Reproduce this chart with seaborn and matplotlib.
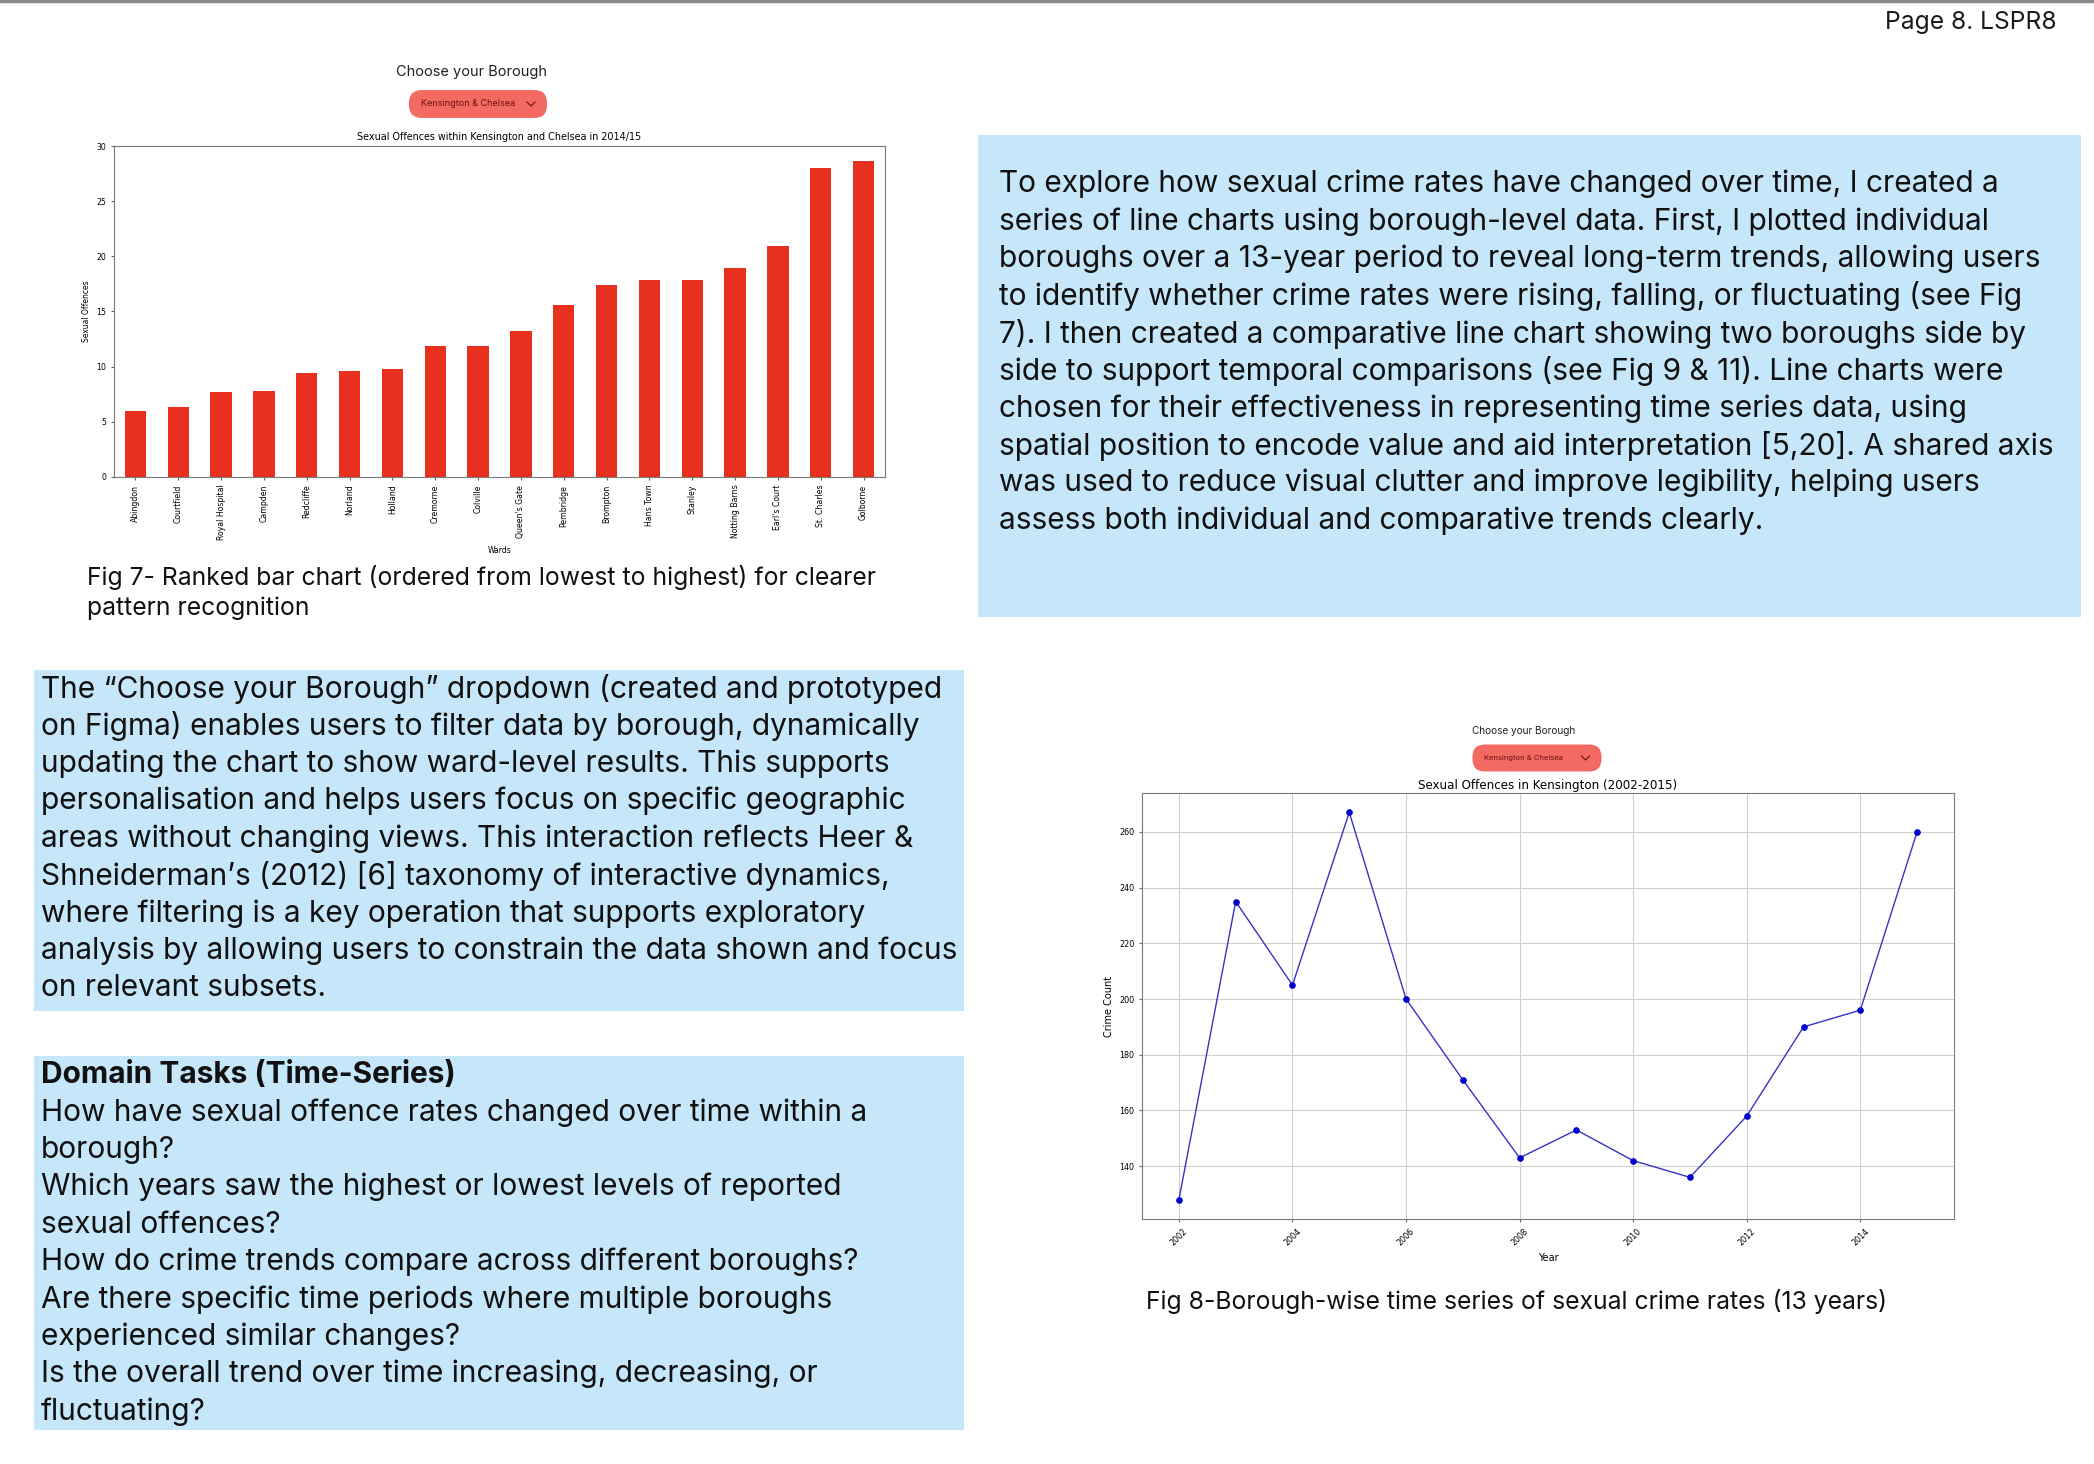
import matplotlib
matplotlib.use("Agg")
import matplotlib.pyplot as plt
import seaborn as sns
from matplotlib.patches import Rectangle, FancyBboxPatch

# Fig 7 data: wards in Kensington & Chelsea, 2014/15
wards = ["Abingdon", "Courtfield", "Royal Hospital", "Campden", "Redcliffe", "Norland",
         "Holland", "Cremorne", "Colville", "Queen's Gate", "Pembridge", "Brompton",
         "Hans Town", "Stanley", "Notting Barns", "Earl's Court", "St. Charles", "Golborne"]
offences = [6.0, 6.3, 7.7, 7.8, 9.4, 9.6, 9.8, 11.9, 11.9, 13.2, 15.6, 17.4,
            17.9, 17.9, 18.9, 20.9, 28.0, 28.6]

# Fig 8 data: Kensington 2002-2015
years = [2002, 2003, 2004, 2005, 2006, 2007, 2008, 2009, 2010, 2011, 2012, 2013, 2014, 2015]
crime_count = [128, 235, 205, 267, 200, 171, 143, 153, 142, 136, 158, 190, 196, 260]
line_yticks = [140, 160, 180, 200, 220, 240, 260]
line_xticks = [2002, 2004, 2006, 2008, 2010, 2012, 2014]

right_text = [
    "To explore how sexual crime rates have changed over time, I created a",
    "series of line charts using borough-level data. First, I plotted individual",
    "boroughs over a 13-year period to reveal long-term trends, allowing users",
    "to identify whether crime rates were rising, falling, or fluctuating (see Fig",
    "7). I then created a comparative line chart showing two boroughs side by",
    "side to support temporal comparisons (see Fig 9 & 11). Line charts were",
    "chosen for their effectiveness in representing time series data, using",
    "spatial position to encode value and aid interpretation [5,20]. A shared axis",
    "was used to reduce visual clutter and improve legibility, helping users",
    "assess both individual and comparative trends clearly.",
]
mid_text = [
    "The \u201cChoose your Borough\u201d dropdown (created and prototyped",
    "on Figma) enables users to filter data by borough, dynamically",
    "updating the chart to show ward-level results. This supports",
    "personalisation and helps users focus on specific geographic",
    "areas without changing views. This interaction reflects Heer &",
    "Shneiderman\u2019s (2012) [6] taxonomy of interactive dynamics,",
    "where filtering is a key operation that supports exploratory",
    "analysis by allowing users to constrain the data shown and focus",
    "on relevant subsets.",
]
tasks_title = "Domain Tasks (Time-Series)"
tasks_text = [
    "How have sexual offence rates changed over time within a",
    "borough?",
    "Which years saw the highest or lowest levels of reported",
    "sexual offences?",
    "How do crime trends compare across different boroughs?",
    "Are there specific time periods where multiple boroughs",
    "experienced similar changes?",
    "Is the overall trend over time increasing, decreasing, or",
    "fluctuating?",
]
fig7_caption = ["Fig 7- Ranked bar chart (ordered from lowest to highest) for clearer",
                "pattern recognition"]
fig8_caption = "Fig 8-Borough-wise time series of sexual crime rates (13 years)"

W, H = 2094, 1464
BLUE = "#c6e6fa"
PILL = "#f26a62"
BODY = ["Inter", "DejaVu Sans"]
BODY_FS = 21.5

fig = plt.figure(figsize=(W / 100, H / 100), dpi=100)
fig.patch.set_facecolor("white")

# page layer in pixel coordinates
bg = fig.add_axes([0, 0, 1, 1])
bg.set_xlim(0, W)
bg.set_ylim(H, 0)
bg.axis("off")

bg.plot([0, W], [1, 1], color="#8a8a8a", lw=2.5)
bg.text(2057, 22, "Page 8. LSPR8", ha="right", va="center", fontsize=17.7,
        family=BODY, color="#1a1a1a")

bg.add_patch(Rectangle((978, 135), 1103, 482, color=BLUE, lw=0))
bg.add_patch(Rectangle((34, 670), 930, 341, color=BLUE, lw=0))
bg.add_patch(Rectangle((34, 1056), 930, 374, color=BLUE, lw=0))

lh = 37.4
for i, line in enumerate(right_text):
    bg.text(999, 184 + i * lh, line, ha="left", va="center", fontsize=BODY_FS,
            family=BODY, color="#111111")
for i, line in enumerate(mid_text):
    bg.text(41, 689 + i * lh, line, ha="left", va="center", fontsize=BODY_FS,
            family=BODY, color="#111111")
bg.text(41, 1075, tasks_title, ha="left", va="center", fontsize=BODY_FS,
        family=BODY, weight="bold", color="#111111")
for i, line in enumerate(tasks_text):
    bg.text(41, 1075 + (i + 1) * lh, line, ha="left", va="center", fontsize=BODY_FS,
            family=BODY, color="#111111")

for i, line in enumerate(fig7_caption):
    bg.text(87, 578 + i * 30, line, ha="left", va="center", fontsize=17.8,
            family=BODY, color="#111111")
bg.text(1146, 1301, fig8_caption, ha="left", va="center", fontsize=17.8,
        family=BODY, color="#111111")


def dropdown(cx, cy, w, h, label_x, fs_title, fs_label, title_x, title_y):
    bg.text(title_x, title_y, "Choose your Borough", ha="center", va="center",
            fontsize=fs_title, family=BODY, color="#222222")
    bg.add_patch(FancyBboxPatch((cx - w / 2, cy - h / 2), w, h,
                                boxstyle="round,pad=0,rounding_size=%f" % (h / 2 - 1),
                                fc=PILL, ec="none"))
    bg.text(label_x, cy, "Kensington & Chelsea", ha="center", va="center",
            fontsize=fs_label, family=BODY, color="#6a1010")
    chx = cx + w / 2 - 16
    bg.plot([chx - 4, chx, chx + 4], [cy - 2, cy + 2, cy - 2], color="#6a1010", lw=0.8)


dropdown(478, 104, 138, 28, 468, 10.5, 6.5, 472, 72)
dropdown(1537, 758, 129, 27, 1523, 7.2, 5.5, 1524, 731)

# Fig 7 bar chart
ax1 = fig.add_axes([114 / W, 1 - 477 / H, 771 / W, 331 / H])
sns.barplot(x=wards, y=offences, color="#e8301f", saturation=1, width=0.5, ax=ax1)
ax1.set_ylim(0, 30)
ax1.set_title("Sexual Offences within Kensington and Chelsea in 2014/15", fontsize=6.9, pad=4)
ax1.set_xlabel("Wards", fontsize=5.5)
ax1.set_ylabel("Sexual Offences", fontsize=5.5)
ax1.tick_params(axis="x", labelrotation=90, labelsize=5.6, length=2, color="#666666")
ax1.tick_params(axis="y", labelsize=5.6, length=2, color="#666666")
for s in ax1.spines.values():
    s.set_color("#7a7a7a")

# Fig 8 line chart
ax2 = fig.add_axes([1142 / W, 1 - 1219 / H, 812 / W, 426 / H])
sns.lineplot(x=years, y=crime_count, marker="o", color="#3535c0", linewidth=1,
             markersize=4, markerfacecolor="#0000cc", markeredgecolor="#0000cc", ax=ax2)
ax2.set_yticks(line_yticks)
ax2.set_xticks(line_xticks)
ax2.grid(True, color="#d0d0d0", linewidth=0.8)
ax2.set_axisbelow(True)
ax2.set_title("Sexual Offences in Kensington (2002-2015)", fontsize=8.6, pad=3)
ax2.set_xlabel("Year", fontsize=7)
ax2.set_ylabel("Crime Count", fontsize=7)
ax2.tick_params(axis="x", labelrotation=45, labelsize=5.8, length=2, color="#666666")
ax2.tick_params(axis="y", labelsize=5.8, length=2, color="#666666")
for s in ax2.spines.values():
    s.set_color("#7a7a7a")

fig.savefig("out.png", dpi=100)
